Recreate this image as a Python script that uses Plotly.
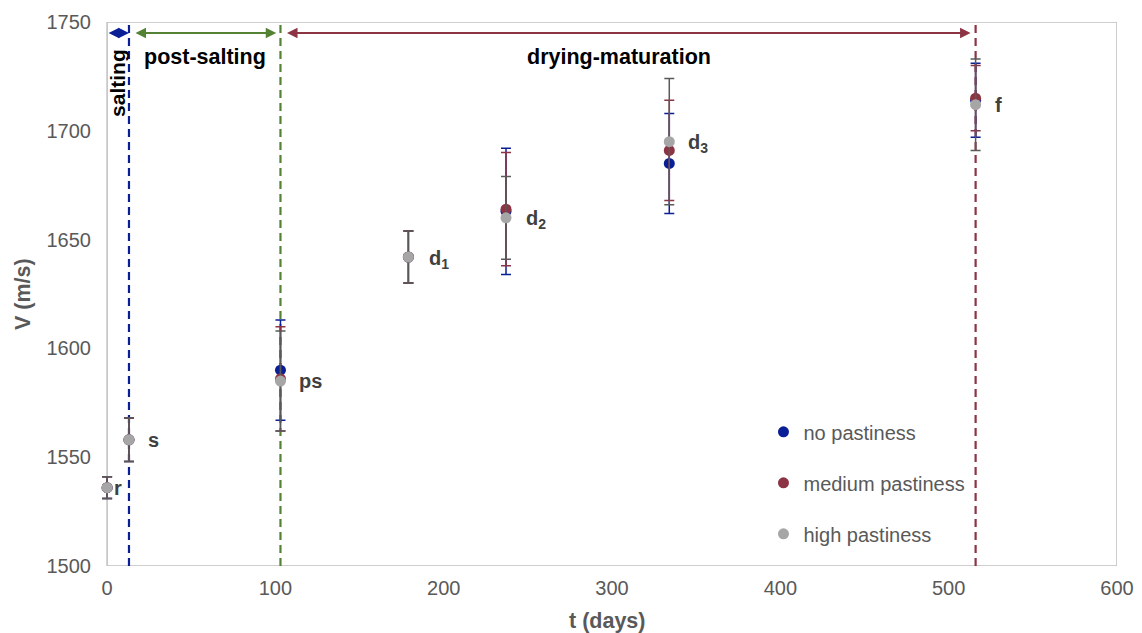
import plotly.graph_objects as go

# Sampling times (days) and stage labels
days = [0, 13, 103, 179, 237, 334, 516]
stage_labels = ["r", "s", "ps", "d<sub>1</sub>", "d<sub>2</sub>", "d<sub>3</sub>", "f"]

# Ultrasonic velocity (m/s) and standard deviations per pastiness group
v_no = [1536, 1558, 1590, 1642, 1663, 1685, 1714]
err_no = [5, 10, 23, 12, 29, 23, 17]
v_med = [1536, 1558, 1586, 1642, 1664, 1691, 1715]
err_med = [5, 10, 24, 12, 26, 23, 15]
v_high = [1536, 1558, 1585, 1642, 1660, 1695, 1712]
err_high = [5, 10, 23, 12, 19, 29, 21]

series_names = ["no pastiness", "medium pastiness", "high pastiness"]

# Process stage boundaries (days) and stage names
stage_bounds = [0, 13, 103, 516]
stage_names = ["salting", "post-salting", "drying-maturation"]

BLUE = "#0A1E96"
RED = "#8C3444"
GRAY = "#A6A6A6"
GREEN = "#548235"
FRAME = "#BFBFBF"
FONT = "Liberation Sans, Arial, sans-serif"

X0, X1 = 0, 600
Y0, Y1 = 1500, 1750
XPAD = 6  # small room left of t=0 so error bars at t=0 are not clipped

fig = go.Figure()

series = [
    (series_names[0], v_no, err_no, BLUE, BLUE),
    (series_names[1], v_med, err_med, RED, RED),
    (series_names[2], v_high, err_high, GRAY, "#595959"),
]
for i, (name, vals, errs, col, ecol) in enumerate(series):
    fig.add_trace(go.Scatter(
        x=days, y=vals, name=name, mode="markers",
        marker=dict(color=col, size=11),
        error_y=dict(type="data", array=errs, visible=True,
                     color=ecol, thickness=1.5, width=5),
        cliponaxis=False, legendgroup=f"g{i}",
    ))

# Plot frame
fig.add_shape(type="rect", x0=X0, x1=X1, y0=Y0, y1=Y1, xref="x", yref="y",
              layer="below", line=dict(color=FRAME, width=1.5))

# Dashed stage boundaries
line_cols = [BLUE, GREEN, RED]
for xb, col in zip(stage_bounds[1:], line_cols):
    fig.add_shape(type="line", x0=xb, x1=xb, y0=Y0, y1=Y1,
                  xref="x", yref="y", layer="below",
                  line=dict(color=col, width=2.2, dash="8px,5px"))

# Double-headed arrows spanning each stage
arrow_y = 1745
arrow_spans = [(0, 13), (16, 100.5), (106, 513)]
for (a, b), col in zip(arrow_spans, line_cols):
    fig.add_annotation(x=b, y=arrow_y, ax=a, ay=arrow_y, xref="x", yref="y",
                       axref="x", ayref="y", text="", showarrow=True,
                       arrowhead=2, startarrowhead=2, arrowside="end+start",
                       arrowsize=1.05, startarrowsize=1.05, arrowwidth=2,
                       arrowcolor=col, standoff=0, startstandoff=0)

# Stage names
fig.add_annotation(x=6.5, y=1722, xref="x", yref="y", text="<b>salting</b>",
                   textangle=-90, showarrow=False,
                   font=dict(family=FONT, size=21, color="#000000"))
fig.add_annotation(x=58, y=1734, xref="x", yref="y", text="<b>post-salting</b>",
                   showarrow=False, font=dict(family=FONT, size=21.5, color="#000000"))
fig.add_annotation(x=304, y=1734, xref="x", yref="y", text="<b>drying-maturation</b>",
                   showarrow=False, font=dict(family=FONT, size=21.5, color="#000000"))

# Sampling point labels
shifts = [5, 17, 17, 19, 18, 17, 17]
for d, v, lab, sh in zip(days, v_high, stage_labels, shifts):
    fig.add_annotation(x=d, y=v, xref="x", yref="y", text=f"<b>{lab}</b>",
                       showarrow=False, xanchor="left", yanchor="middle",
                       xshift=sh, yshift=-2 if "sub" in lab else 0,
                       font=dict(family=FONT, size=20, color="#404040"))

# Axis titles placed in paper space
fig.add_annotation(x=0.5, y=0, xref="paper", yref="paper", yshift=-55,
                   xanchor="center", yanchor="middle", showarrow=False,
                   text="<b>t (days)</b>",
                   font=dict(family=FONT, size=21.5, color="#595959"))
fig.add_annotation(x=0, y=0.5, xref="paper", yref="paper", xshift=-74,
                   xanchor="center", yanchor="middle", showarrow=False,
                   textangle=-90, text="<b>V (m/s)</b>",
                   font=dict(family=FONT, size=21.5, color="#595959"))

fig.update_layout(
    width=1142, height=633,
    margin=dict(l=97, r=25, t=22, b=67, autoexpand=False),
    plot_bgcolor="white", paper_bgcolor="white",
    font=dict(family=FONT, size=20, color="#595959"),
    showlegend=True,
    legend=dict(x=0.6534, y=0.2825, xanchor="left", yanchor="top",
                bgcolor="rgba(0,0,0,0)", tracegroupgap=22,
                font=dict(family=FONT, size=20, color="#595959")),
    xaxis=dict(range=[X0 - XPAD, X1], tickvals=[0, 100, 200, 300, 400, 500, 600],
               showgrid=False, zeroline=False, showline=False, ticks="",
               ticklabelstandoff=8, automargin=False),
    yaxis=dict(range=[Y0, Y1], tickvals=[1500, 1550, 1600, 1650, 1700, 1750],
               showgrid=False, zeroline=False, showline=False, ticks="",
               ticklabelstandoff=5, automargin=False),
)

fig.write_html("out.html")
